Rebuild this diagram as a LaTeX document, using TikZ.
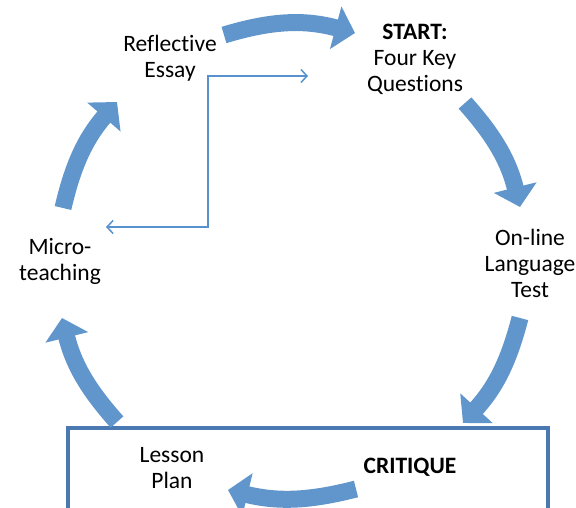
\documentclass[tikz,border=0pt]{standalone}
\usepackage{fontspec}
\setmainfont{Carlito}[Ligatures=NoCommon]
\usepackage{tikz}
\usetikzlibrary{arrows.meta,positioning,calc}

\definecolor{cyclecol}{RGB}{96,150,203}
\definecolor{linkcol}{RGB}{88,146,206}
\definecolor{framecol}{RGB}{74,120,176}

\tikzset{
  stage/.style={align=center,font=\fontsize{23.5}{26}\selectfont,inner sep=0pt},
  bigarrow/.style={draw=cyclecol,line width=17pt,-{Triangle[length=20pt,width=43pt]}},
  link/.style={draw=linkcol,line width=1.5pt,{Straight Barb[length=6pt,width=13pt]}-{Straight Barb[length=6pt,width=13pt]}},
}

\begin{document}
\begin{tikzpicture}[x=1pt,y=-1pt]
  \useasboundingbox (0,0) rectangle (576,508);
  % critique frame
  \draw[framecol,line width=3.2pt] (68,428) rectangle (548,530);
  % stages
  \node[stage] (essay) at (170,58) {Reflective\\Essay};
  \node[stage] (start) at (415,59) {\textbf{START:}\\Four Key\\Questions};
  \node[stage] (test) at (530,263) {On-line\\Language\\Test};
  \node[stage] (micro) at (60,261) {Micro-\\teaching};
  \node[stage] (plan) at (172,468) {Lesson\\Plan};
  \node[stage] (critique) at (410,467) {\textbf{CRITIQUE}};
  % cycle arrows
  \coordinate (a1s) at (224,35);  \coordinate (a1e) at (355,33);
  \coordinate (a2s) at (465,103); \coordinate (a2e) at (520,207);
  \coordinate (a3s) at (520,318); \coordinate (a3e) at (463,423);
  \coordinate (a4s) at (356,489); \coordinate (a4e) at (228,490);
  \coordinate (a5s) at (117,422); \coordinate (a5e) at (62,318);
  \coordinate (a6s) at (63,208);  \coordinate (a6e) at (117,102);
  \draw[bigarrow] (a1s) to[bend left=16] (a1e);
  \draw[bigarrow] (a2s) to[bend left=14] (a2e);
  \draw[bigarrow] (a3s) to[bend left=14] (a3e);
  \draw[bigarrow] (a4s) to[bend left=14] (a4e);
  \draw[bigarrow] (a5s) to[bend left=14] (a5e);
  \draw[bigarrow] (a6s) to[bend left=14] (a6e);
  % feedback link
  \coordinate (toquest) at (308,76);
  \coordinate (tomicro) at (106,227);
  \coordinate (elbow) at (208,150);
  \draw[link] (toquest) -| (elbow) |- (tomicro);
\end{tikzpicture}
\end{document}
